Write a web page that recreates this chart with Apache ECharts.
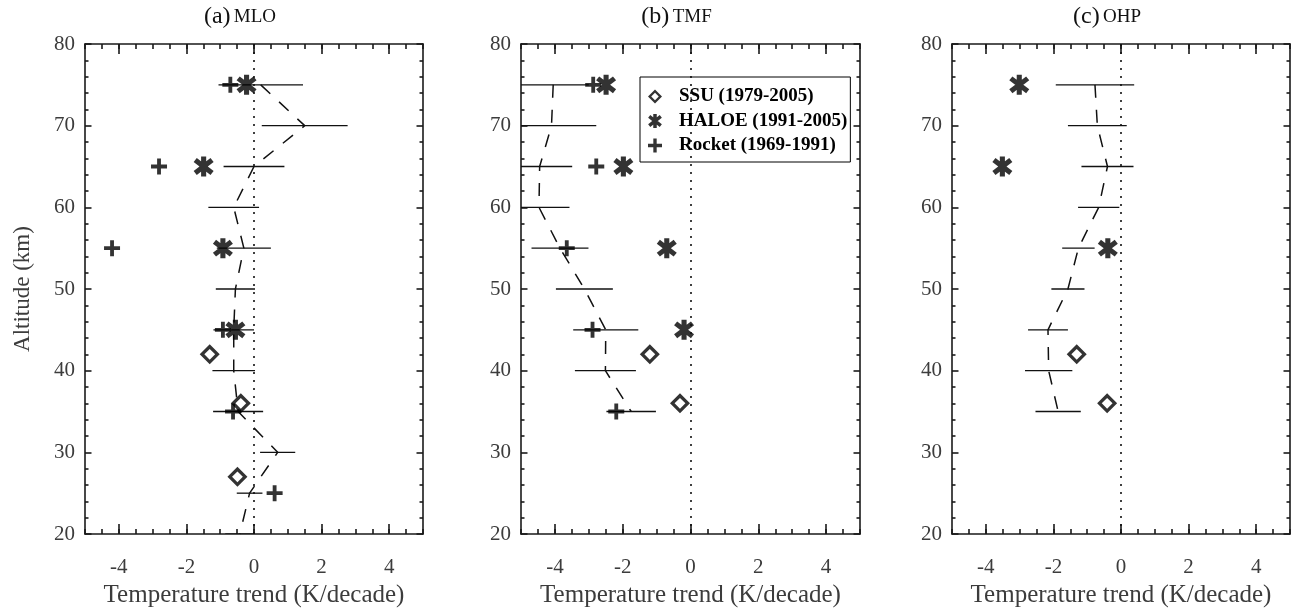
<!DOCTYPE html>
<html>
<head>
<meta charset="utf-8">
<script src="https://cdn.jsdelivr.net/npm/echarts@6/dist/echarts.min.js"></script>
<style>
html,body{margin:0;padding:0;background:#fff;}
#chart{width:1294px;height:614px;}
</style>
</head>
<body>
<div id="chart"></div>
<script>
// ---------------- DATA ----------------
const panelTitles = ['(a)', '(b)', '(c)'];
const panelSites = ['MLO', 'TMF', 'OHP'];
const xTickLabels = [-4, -2, 0, 2, 4];
const xRange = [-5, 5];
const yRange = [20, 80];
const legendNames = ['SSU (1979-2005)', 'HALOE (1991-2005)', 'Rocket (1969-1991)'];

// lidar trend profiles (dashed line) with error bars
const altA = [75, 70, 65, 60, 55, 50, 45, 40, 35, 30, 25, 20];
const trendA = [0.2, 1.5, 0.0, -0.6, -0.3, -0.55, -0.6, -0.6, -0.47, 0.7, -0.13, -0.42];
const errA = [1.25, 1.27, 0.9, 0.75, 0.8, 0.58, 0.6, 0.63, 0.74, 0.52, 0.38, 0.43];

const altB = [75, 70, 65, 60, 55, 50, 45, 40, 35];
const trendB = [-4.05, -4.1, -4.45, -4.47, -3.85, -3.13, -2.5, -2.51, -1.75];
const errB = [1.05, 1.32, 0.96, 0.9, 0.84, 0.84, 0.96, 0.9, 0.73];

const altC = [75, 70, 65, 60, 55, 50, 45, 40, 35];
const trendC = [-0.77, -0.7, -0.4, -0.66, -1.26, -1.57, -2.16, -2.14, -1.86];
const errC = [1.16, 0.87, 0.77, 0.61, 0.48, 0.49, 0.59, 0.7, 0.67];

// SSU (diamonds)
const ssuAltA = [42, 36, 27];
const ssuValA = [-1.31, -0.39, -0.49];
const ssuAltB = [42, 36];
const ssuValB = [-1.2, -0.31];
const ssuAltC = [42, 36];
const ssuValC = [-1.31, -0.41];

// HALOE (asterisks)
const haloeAltA = [75, 65, 55, 45];
const haloeValA = [-0.22, -1.49, -0.92, -0.55];
const haloeAltB = [75, 65, 55, 45];
const haloeValB = [-2.49, -1.98, -0.70, -0.19];
const haloeAltC = [75, 65, 55];
const haloeValC = [-3.01, -3.51, -0.39];

// Rocket (plus)
const rocketAltA = [75, 65, 55, 45, 35, 25];
const rocketValA = [-0.7, -2.81, -4.2, -0.92, -0.62, 0.61];
const rocketAltB = [75, 65, 55, 45, 35];
const rocketValB = [-2.87, -2.78, -3.65, -2.89, -2.19];
const rocketAltC = [];
const rocketValC = [];

// ---------------- STYLE / LAYOUT ----------------
const FONT = '"Liberation Serif", "Times New Roman", serif';
const AXIS_COLOR = '#1a1a1a';
const LABEL_COLOR = '#3c3c3c';
const gridLefts = [85, 521, 952];
const gridWidths = [338, 339, 338];
const gridTop = 44, gridHeight = 490;

// marker shapes (built geometrically, symbol only)
function barPath(angleDeg, half, thick) {
  const a = angleDeg * Math.PI / 180;
  const ux = Math.sin(a), uy = -Math.cos(a);
  const vx = -uy, vy = ux;
  const pts = [
    [ux * half + vx * thick, uy * half + vy * thick],
    [ux * half - vx * thick, uy * half - vy * thick],
    [-ux * half - vx * thick, -uy * half - vy * thick],
    [-ux * half + vx * thick, -uy * half + vy * thick]
  ];
  return 'M' + pts.map(p => p[0].toFixed(3) + ',' + p[1].toFixed(3)).join(' L') + ' Z';
}
const plusPath = 'path://M-2.4,-10 L2.4,-10 L2.4,-2.4 L10,-2.4 L10,2.4 L2.4,2.4 L2.4,10 L-2.4,10 L-2.4,2.4 L-10,2.4 L-10,-2.4 L-2.4,-2.4 Z';
const starPath = 'path://' + barPath(0, 10, 2.5) + ' ' + barPath(52, 10.5, 2.5) + ' ' + barPath(-52, 10.5, 2.5);
const diamondPath = 'path://M0,-10 L10,0 L0,10 L-10,0 Z M0,-5.4 L-5.4,0 L0,5.4 L5.4,0 Z';

const lineStyle = {color: AXIS_COLOR, width: 1.6};

const panels = [
  {alt: altA, trend: trendA, err: errA, ssu: [ssuValA, ssuAltA], haloe: [haloeValA, haloeAltA], rocket: [rocketValA, rocketAltA]},
  {alt: altB, trend: trendB, err: errB, ssu: [ssuValB, ssuAltB], haloe: [haloeValB, haloeAltB], rocket: [rocketValB, rocketAltB]},
  {alt: altC, trend: trendC, err: errC, ssu: [ssuValC, ssuAltC], haloe: [haloeValC, haloeAltC], rocket: [rocketValC, rocketAltC]}
];

const grid = [], xAxis = [], yAxis = [], series = [], graphic = [];

panels.forEach((P, p) => {
  grid.push({left: gridLefts[p], top: gridTop, width: gridWidths[p], height: gridHeight});
  const xb = {gridIndex: p, type: 'value', min: xRange[0], max: xRange[1], interval: 0.5, splitLine: {show: false}};
  xAxis.push(Object.assign({}, xb, {
    position: 'bottom',
    axisLine: {show: true, onZero: false, lineStyle: lineStyle},
    axisTick: {inside: true, length: 5, lineStyle: lineStyle},
    axisLabel: {
      margin: 23, fontSize: 21, fontFamily: FONT, color: LABEL_COLOR,
      formatter: v => xTickLabels.some(t => Math.abs(t - v) < 1e-9) ? String(v) : ''
    },
    name: 'Temperature trend (K/decade)', nameLocation: 'middle', nameGap: 42,
    nameTextStyle: {fontSize: 25, fontFamily: FONT, color: LABEL_COLOR}
  }));
  xAxis.push(Object.assign({}, xb, {
    position: 'bottom',
    axisLine: {show: false, onZero: false},
    axisTick: {inside: true, length: 10, lineStyle: lineStyle, customValues: xTickLabels},
    axisLabel: {show: false}
  }));
  xAxis.push(Object.assign({}, xb, {
    position: 'top',
    axisLine: {show: true, onZero: false, lineStyle: lineStyle},
    axisTick: {inside: true, length: 5, lineStyle: lineStyle},
    axisLabel: {show: false}
  }));
  xAxis.push(Object.assign({}, xb, {
    position: 'top',
    axisLine: {show: false, onZero: false},
    axisTick: {inside: true, length: 10, lineStyle: lineStyle, customValues: xTickLabels},
    axisLabel: {show: false}
  }));
  const yb = {gridIndex: p, type: 'value', min: yRange[0], max: yRange[1], interval: 10, splitLine: {show: false},
    axisLine: {show: true, onZero: false, lineStyle: lineStyle},
    axisTick: {inside: true, length: 6.5, lineStyle: lineStyle},
    minorTick: {show: true, splitNumber: 5, length: 3.5, lineStyle: lineStyle}};
  yAxis.push(Object.assign({}, yb, {
    position: 'left',
    axisLabel: {margin: 10, fontSize: 21, fontFamily: FONT, color: LABEL_COLOR},
    name: p === 0 ? 'Altitude (km)' : '', nameLocation: 'middle', nameGap: 51,
    nameTextStyle: {fontSize: 23, fontFamily: FONT, color: LABEL_COLOR}
  }));
  yAxis.push(Object.assign({}, yb, {position: 'right', axisLabel: {show: false}}));

  const xi = 4 * p, yi = 2 * p;
  series.push({
    type: 'custom', xAxisIndex: xi, yAxisIndex: yi, clip: true, silent: true, z: 2,
    data: P.alt.map((a, i) => [P.trend[i] - P.err[i], P.trend[i] + P.err[i], a]),
    renderItem: (params, api) => {
      const p1 = api.coord([api.value(0), api.value(2)]);
      const p2 = api.coord([api.value(1), api.value(2)]);
      return {type: 'line', shape: {x1: p1[0], y1: p1[1], x2: p2[0], y2: p2[1]},
        style: {stroke: '#111', lineWidth: 1.3}};
    }
  });
  series.push({
    type: 'line', xAxisIndex: xi, yAxisIndex: yi, silent: true, z: 2,
    data: P.alt.map((a, i) => [P.trend[i], a]),
    symbol: 'none', lineStyle: {color: '#111', width: 1.5, type: [13, 12]},
    markLine: {
      silent: true, symbol: ['none', 'none'], label: {show: false},
      lineStyle: {color: '#111', width: 1.6, type: [2, 6]},
      data: [{xAxis: 0}]
    }
  });
  series.push({
    name: legendNames[0], type: 'scatter', xAxisIndex: xi, yAxisIndex: yi, z: 4,
    symbol: diamondPath, symbolSize: 20, itemStyle: {color: '#000'},
    data: P.ssu[1].map((a, i) => [P.ssu[0][i], a])
  });
  series.push({
    name: legendNames[1], type: 'scatter', xAxisIndex: xi, yAxisIndex: yi, z: 4,
    symbol: starPath, symbolSize: 20, itemStyle: {color: '#000'},
    data: P.haloe[1].map((a, i) => [P.haloe[0][i], a])
  });
  series.push({
    name: legendNames[2], type: 'scatter', xAxisIndex: xi, yAxisIndex: yi, z: 4,
    symbol: plusPath, symbolSize: 16, itemStyle: {color: '#000'},
    data: P.rocket[1].map((a, i) => [P.rocket[0][i], a])
  });

  graphic.push({
    type: 'text', x: gridLefts[p] + gridWidths[p] / 2 - 14, y: 17,
    style: {
      text: '{p|' + panelTitles[p] + '} {n|' + panelSites[p] + '}',
      align: 'center', verticalAlign: 'middle',
      rich: {
        p: {fontSize: 24, fontFamily: FONT, fill: '#111'},
        n: {fontSize: 19, fontFamily: FONT, fill: '#111'}
      }
    }
  });
});

const chart = echarts.init(document.getElementById('chart'), null, {renderer: 'canvas'});
chart.setOption({
  animation: false,
  backgroundColor: '#fff',
  grid, xAxis, yAxis, series, graphic,
  legend: {
    data: legendNames, orient: 'vertical', left: 640, top: 77,
    itemWidth: 38, itemHeight: 14, itemGap: 5.5,
    padding: [10, 3, 7, 8], borderColor: '#000', borderWidth: 1, backgroundColor: '#fff',
    selectedMode: false,
    textStyle: {fontFamily: FONT, fontWeight: 'bold', fontSize: 19, color: '#000'}
  }
});
</script>
</body>
</html>
